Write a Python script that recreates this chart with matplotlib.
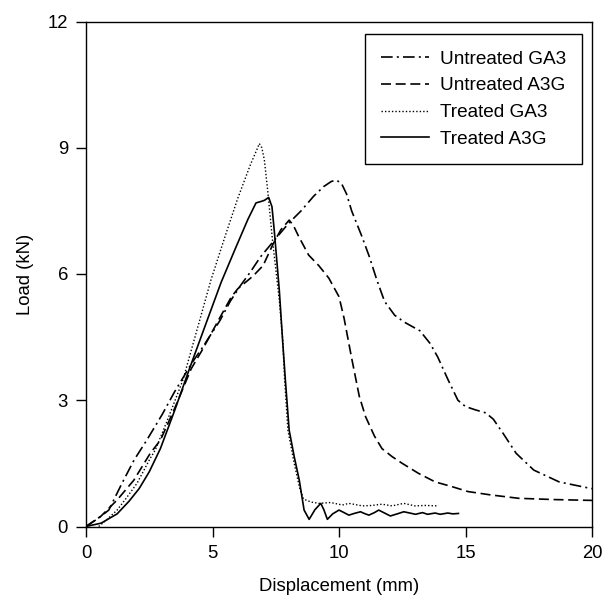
import matplotlib
matplotlib.use("Agg")
import matplotlib.pyplot as plt

plt.rcParams['font.family'] = ['Liberation Sans', 'DejaVu Sans']

# Untreated GA3 (dash-dot)
ugx = [0, 0.5, 0.9, 1.4, 1.9, 2.4, 3.0, 3.5, 4.2, 4.6, 5.3, 5.7, 6.1, 6.5, 6.9,
       7.4, 8.0, 8.5, 9.0, 9.4, 9.7, 9.9, 10.1, 10.3, 10.5, 10.9, 11.2, 11.5,
       11.8, 12.2, 12.6, 13.2, 13.6, 13.9, 14.3, 14.7, 15.0, 15.4, 15.8, 16.1,
       16.5, 17.0, 17.7, 18.7, 19.9, 20.0]
ugy = [0, 0.2, 0.39, 1.0, 1.58, 2.05, 2.65, 3.2, 3.9, 4.25, 4.9, 5.35, 5.72,
       6.05, 6.41, 6.77, 7.2, 7.5, 7.85, 8.08, 8.2, 8.23, 8.15, 7.9, 7.5, 6.9,
       6.41, 5.85, 5.35, 5.02, 4.85, 4.65, 4.35, 4.03, 3.5, 3.0, 2.85, 2.77,
       2.7, 2.55, 2.2, 1.74, 1.34, 1.06, 0.91, 0.9]

# Untreated A3G (dashed)
uax = [0, 0.6, 1.23, 1.89, 2.54, 2.94, 3.5, 4.16, 4.6, 5.28, 5.74, 6.0, 6.3,
       6.6, 7.0, 7.4, 7.7, 8.03, 8.2, 8.4, 8.8, 9.2, 9.6, 10.0, 10.2, 10.5,
       10.8, 11.05, 11.4, 11.7, 12.1, 12.5, 13.15, 13.8, 14.45, 15.1, 16.0,
       17.1, 18.5, 20.0]
uay = [0, 0.25, 0.63, 1.1, 1.74, 2.05, 2.8, 3.75, 4.2, 4.95, 5.45, 5.65,
       5.8, 5.95, 6.2, 6.72, 7.05, 7.28, 7.15, 6.9, 6.45, 6.2, 5.9, 5.46,
       4.95, 4.0, 3.1, 2.61, 2.15, 1.85, 1.66, 1.5, 1.26, 1.06, 0.95, 0.83,
       0.75, 0.67, 0.64, 0.62]

# Treated GA3 (dotted)
tgx = [0.5, 0.8, 1.23, 1.6, 2.02, 2.52, 2.74, 3.2, 3.83, 4.4, 4.94, 5.5,
       6.0, 6.5, 6.75, 6.85, 6.95, 7.05, 7.18, 7.37, 7.64, 7.78, 7.85, 7.98,
       8.23, 8.45, 8.6, 8.9, 9.21, 9.67, 10.13, 10.39, 10.92, 11.3, 11.7,
       12.1, 12.56, 13.0, 13.4, 13.9]
tgy = [0, 0.15, 0.39, 0.68, 1.03, 1.6, 1.82, 2.5, 3.48, 4.7, 5.86, 6.9, 7.8,
       8.6, 8.95, 9.1, 9.0, 8.71, 7.99, 6.81, 5.38, 4.4, 3.5, 2.29, 1.5, 0.9,
       0.65, 0.58, 0.55, 0.57, 0.51, 0.55, 0.49, 0.5, 0.53, 0.49, 0.55, 0.49,
       0.5, 0.49]

# Treated A3G (solid)
tax = [0, 0.6, 1.23, 1.7, 2.1, 2.5, 2.94, 3.5, 4.09, 4.82, 5.34, 5.9, 6.4,
       6.72, 6.9, 7.05, 7.22, 7.35, 7.44, 7.64, 7.77, 7.88, 8.03, 8.23, 8.43,
       8.62, 8.82, 9.05, 9.28, 9.4, 9.54, 9.75, 10.0, 10.2, 10.39, 10.6,
       10.85, 11.0, 11.18, 11.4, 11.57, 11.8, 12.03, 12.3, 12.56, 12.8, 13.02,
       13.3, 13.5, 13.8, 14.0, 14.3, 14.5, 14.72]
tay = [0, 0.08, 0.3, 0.6, 0.9, 1.3, 1.85, 2.75, 3.75, 4.95, 5.8, 6.6, 7.3,
       7.69, 7.72, 7.75, 7.82, 7.6, 7.04, 5.62, 4.43, 3.48, 2.29, 1.66, 1.1,
       0.39, 0.17, 0.4, 0.55, 0.4, 0.17, 0.3, 0.39, 0.33, 0.27, 0.31, 0.35,
       0.31, 0.27, 0.33, 0.39, 0.32, 0.25, 0.3, 0.35, 0.32, 0.29, 0.33, 0.29,
       0.32, 0.29, 0.32, 0.3, 0.31]

xticks = [0, 5, 10, 15, 20]
yticks = [0, 3, 6, 9, 12]

fig = plt.figure(figsize=(6.03, 6.06), dpi=100)
ax = fig.add_axes([86 / 603, 1 - 526.5 / 606, (592 - 86) / 603, (526.5 - 21.5) / 606])

lw = 1.2
ax.plot(ugx, ugy, color='black', lw=lw, dashes=(7, 2.5, 1.2, 2.5), label='Untreated GA3')
ax.plot(uax, uay, color='black', lw=lw, dashes=(6, 2.8), label='Untreated A3G')
ax.plot(tgx, tgy, color='black', lw=1.0, dashes=(1, 1.5), label='Treated GA3')
ax.plot(tax, tay, color='black', lw=lw, label='Treated A3G')

ax.set_xlim(0, 20)
ax.set_ylim(0, 12)
ax.set_xticks(xticks)
ax.set_yticks(yticks)
ax.tick_params(direction='out', length=7, width=1, labelsize=13.3, pad=6)
for s in ax.spines.values():
    s.set_linewidth(1)

ax.set_xlabel('Displacement (mm)', fontsize=13.3, labelpad=12)
ax.set_ylabel('Load (kN)', fontsize=13.3, labelpad=10)

# legend box: about x 373..582, y 34..163 px
leg = ax.legend(loc='upper right', bbox_to_anchor=(0.981, 0.975), fontsize=13.7,
                frameon=True, fancybox=False, edgecolor='black', framealpha=1,
                handlelength=2.5, borderpad=0.85, labelspacing=0.5,
                handletextpad=0.6, borderaxespad=0)
leg.get_frame().set_linewidth(1)

fig.savefig('out.png', dpi=100)
